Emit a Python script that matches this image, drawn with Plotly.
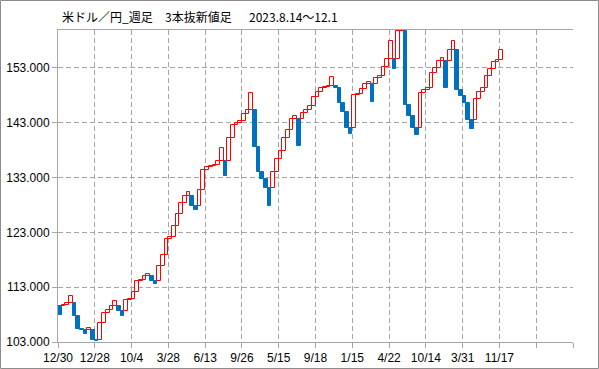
import plotly.graph_objects as go

# Three-line-break bars (weekly USD/JPY): open and close of each line, in order
opens = [
    109.5, 109.5, 109.7, 110.2, 110.2, 107.7, 105.4, 105.2, 105.2, 105.2,
    103.35, 103.35, 106.5, 108.3, 108.9, 109.6, 109.6, 108.6, 108.6, 110.6,
    110.8, 112.1, 114.1, 114.3, 115.1, 115.1, 114.1, 114.1, 116.9, 118.9,
    121.8, 122.2, 124.2, 126.4, 128.4, 129.6, 129.6, 127.8, 127.8, 130.8,
    134.4, 134.9, 135.1, 135.3, 136.1, 136.1, 136.1, 140.2, 142.6, 142.9,
    143.4, 144.6, 145.3, 145.3, 138.5, 134.1, 132.7, 131.1, 131.1, 134.1,
    136.4, 137.8, 140.3, 141.7, 143.7, 143.7, 143.7, 144.8, 145.3, 146.1,
    147.7, 148.6, 149.4, 149.55, 149.7, 149.7, 149.3, 146.7, 144.9, 142.1,
    142.1, 148.0, 148.2, 149.1, 150.0, 150.0, 150.0, 151.2, 151.5, 153.1,
    154.6, 154.6, 154.6, 159.7, 159.7, 146.3, 144.3, 142.1, 142.1, 148.5,
    148.95, 149.3, 152.0, 153.0, 154.3, 154.3, 154.3, 156.2, 156.2, 148.95,
    147.9, 146.7, 143.5, 143.5, 147.3, 148.7, 149.4, 151.5, 152.8, 154.1,
    154.5,
]
closes = [
    107.9, 109.7, 110.2, 111.4, 107.7, 105.4, 105.2, 104.5, 105.6, 103.35,
    103.25, 106.5, 108.3, 108.9, 109.6, 110.5, 108.6, 107.7, 110.6, 110.8,
    112.1, 114.1, 114.3, 115.1, 115.4, 114.1, 113.6, 116.9, 118.9, 121.8,
    122.2, 124.2, 126.4, 128.4, 129.6, 130.3, 127.8, 127.1, 130.8, 134.4,
    134.9, 135.1, 135.3, 136.1, 138.4, 133.2, 140.2, 142.6, 142.9, 143.4,
    144.6, 145.3, 148.5, 138.5, 134.1, 132.7, 131.1, 127.8, 134.1, 136.4,
    137.8, 140.3, 141.7, 143.7, 144.3, 138.7, 144.8, 145.3, 146.1, 147.7,
    148.6, 149.4, 149.55, 149.7, 151.3, 149.3, 146.7, 144.9, 142.1, 140.9,
    148.0, 148.2, 149.1, 150.0, 150.4, 146.8, 151.2, 151.5, 153.1, 154.6,
    157.9, 152.8, 159.7, 160.9, 146.3, 144.3, 142.1, 140.75, 148.5, 148.95,
    149.3, 152.0, 153.0, 154.3, 154.8, 149.4, 156.2, 157.9, 148.95, 147.9,
    146.7, 143.5, 141.9, 147.3, 148.7, 149.4, 151.5, 152.8, 154.1, 154.5,
    156.2,
]

# Category labels shown every 10 lines
tick_labels = ["12/30", "12/28", "10/4", "3/28", "6/13", "9/26", "5/15",
               "9/18", "1/15", "4/22", "10/14", "3/31", "11/17", "", ""]
y_ticks = [103, 113, 123, 133, 143, 153]

title_parts = ["米ドル／円_週足", "3本抜新値足", "2023.8.14～12.1"]

up_x, up_b, up_h, dn_x, dn_b, dn_h = [], [], [], [], [], []
for i, (o, c) in enumerate(zip(opens, closes)):
    if c >= o:
        up_x.append(i + 0.5); up_b.append(o); up_h.append(c - o)
    else:
        dn_x.append(i + 0.5); dn_b.append(o); dn_h.append(c - o)

L, R, T, B = 58, 26, 30, 27
W, H = 599, 369
pw, ph = W - L - R, H - T - B

fig = go.Figure()
fig.add_trace(go.Bar(x=dn_x, base=dn_b, y=dn_h, width=1,
                     marker=dict(color="#0070C0", line=dict(color="#0070C0", width=1)),
                     hoverinfo="skip"))
fig.add_trace(go.Bar(x=up_x, base=up_b, y=up_h, width=1,
                     marker=dict(color="white", line=dict(color="#FF0000", width=1)),
                     hoverinfo="skip"))

grid = "#A6A6A6"
fig.update_layout(
    width=W, height=H,
    margin=dict(l=L, r=R, t=T, b=B, pad=0, autoexpand=False),
    paper_bgcolor="white", plot_bgcolor="white",
    barmode="overlay", bargap=0, showlegend=False,
    font=dict(family="Liberation Sans, Arial, sans-serif", size=12, color="black"),
    xaxis=dict(range=[0, 140], tickmode="array",
               tickvals=[10 * k for k in range(len(tick_labels))],
               ticktext=tick_labels, automargin=False,
               showgrid=True, gridcolor=grid, griddash="5px,3px", gridwidth=1,
               showline=True, linecolor=grid, linewidth=1, mirror=True,
               ticks="outside", ticklen=5, tickcolor=grid,
               zeroline=False, fixedrange=True),
    yaxis=dict(range=[103, 159.93], tickmode="array", tickvals=y_ticks,
               tickformat=".3f", automargin=False,
               showgrid=True, gridcolor=grid, griddash="5px,3px", gridwidth=1,
               showline=True, linecolor=grid, linewidth=1,
               ticks="outside", ticklen=5, tickcolor=grid,
               zeroline=False, fixedrange=True),
)

# outer frame of the picture
fig.add_shape(type="rect", xref="paper", yref="paper",
              x0=(-L + 0.5) / pw, x1=1 + (R - 0.5) / pw,
              y0=(-B + 0.5) / ph, y1=1 + (T - 0.5) / ph,
              line=dict(color="#8C8C8C", width=1), fillcolor="rgba(0,0,0,0)",
              layer="above")

title_x = [60, 163, 247]
for txt, px in zip(title_parts, title_x):
    fig.add_annotation(text=txt, xref="paper", yref="paper",
                       x=(px - L) / pw, y=1 + (T - 17) / ph,
                       xanchor="left", yanchor="middle", showarrow=False,
                       font=dict(family="Noto Sans CJK JP", size=12, color="black"))

fig.write_html("out.html", config={"displayModeBar": False},
               post_script="document.body.style.margin='0px';document.body.style.overflow='hidden';")
